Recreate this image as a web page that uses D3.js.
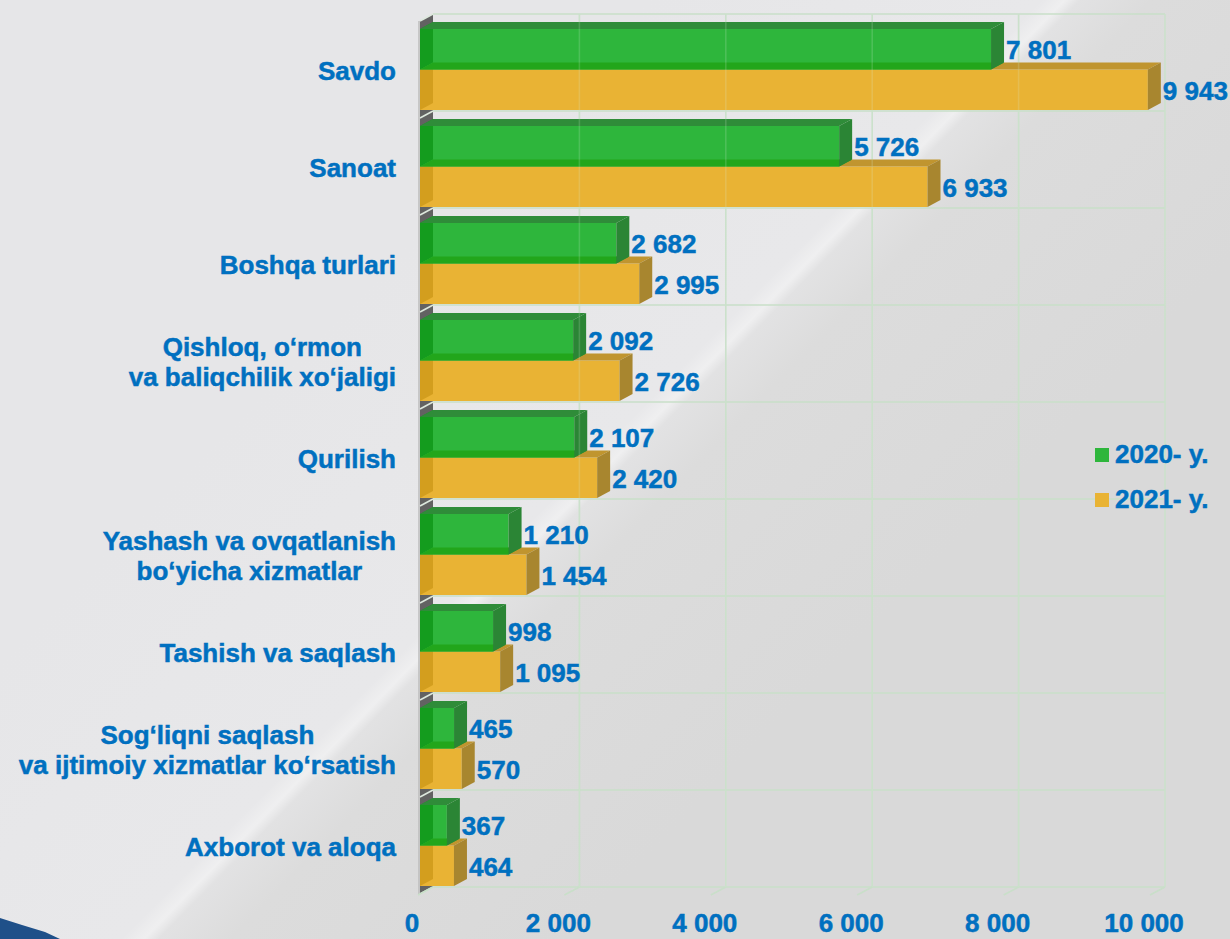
<!DOCTYPE html>
<html><head><meta charset="utf-8">
<script src="https://cdn.jsdelivr.net/npm/d3@7"></script>
<style>html,body{margin:0;padding:0;overflow:hidden;background:#e3e3e5}</style>
</head><body>
<svg id="c" width="1230" height="939"></svg>
<script>
const categories = [
  "Savdo",
  "Sanoat",
  "Boshqa turlari",
  "Qishloq, o‘rmon\nva baliqchilik xo‘jaligi",
  "Qurilish",
  "Yashash va ovqatlanish\nbo‘yicha xizmatlar",
  "Tashish va saqlash",
  "Sog‘liqni saqlash\nva ijtimoiy xizmatlar ko‘rsatish",
  "Axborot va aloqa"
];
const series = ["2020- y.", "2021- y."];
const values2020 = [7801, 5726, 2682, 2092, 2107, 1210, 998, 465, 367];
const values2021 = [9943, 6933, 2995, 2726, 2420, 1454, 1095, 570, 464];
const tickValues = [0, 2000, 4000, 6000, 8000, 10000];
const tickLabels = ["0", "2 000", "4 000", "6 000", "8 000", "10 000"];

const W = 1230, H = 939;
const DX = 13, DY = -7;
const FONT = "'Liberation Sans', Arial, sans-serif";
const TXT = "#0070C0";

const seriesValues = {"2020- y.": values2020, "2021- y.": values2021};
const colors = {
  "2020- y.": {front: "#2eb63c", top: "#2f8c39", side: "#2b8535", left: "#149c1e", bottom: "#22a61b"},
  "2021- y.": {front: "#e9b334", top: "#c0952f", side: "#a8862f", left: "#d39e1e", bottom: null}
};

const fmt = d3.formatLocale({decimal: ",", thousands: " ", grouping: [3], currency: ["", ""]}).format(",d");

const x = d3.scaleLinear().domain([0, 10000]).range([420, 1152]);
const y = d3.scaleBand().domain(categories).range([21, 894]).paddingInner(16 / 97).paddingOuter(8 / 97);
const ys = d3.scaleBand().domain(series).range([0, y.bandwidth()]);

const svg = d3.select("#c");
const defs = svg.append("defs");
const g = defs.append("linearGradient").attr("id", "bg").attr("gradientUnits", "userSpaceOnUse")
  .attr("x1", 412).attr("y1", 240).attr("x2", 840).attr("y2", 660);
[[0, "#e6e6e8"], [0.47, "#e8e8ea"], [0.497, "#efeff0"], [0.515, "#e2e2e3"], [0.6, "#dcdcdc"], [1, "#d9d9d9"]]
  .forEach(([o, c]) => g.append("stop").attr("offset", o).attr("stop-color", c));
svg.append("rect").attr("width", W).attr("height", H).attr("fill", "url(#bg)");

// bottom-left decoration
svg.append("path").attr("d", "M0,918 L22,925 L45,932 L60,939 L0,939 Z").attr("fill", "#1f5089");

const x0 = x(0);
const yTopBack = y.range()[0] + DY;
const yFloorBack = y.range()[1] + DY;
const poly = pts => pts.map(p => p.join(",")).join(" ");

// left wall
svg.append("polygon")
  .attr("points", poly([[x0, y.range()[0]], [x0 + DX, yTopBack], [x0 + DX, yFloorBack], [x0, y.range()[1]]]))
  .attr("fill", "#626262");
svg.append("line").attr("x1", x0 - 1).attr("x2", x0 - 1).attr("y1", y.range()[0]).attr("y2", y.range()[1])
  .attr("stroke", "#bdbdbd").attr("stroke-width", 1.5);

const grid = svg.append("g").attr("stroke", "#c9dfc9").attr("stroke-width", 1.6).attr("fill", "none");
tickValues.slice(1).forEach(v => {
  grid.append("line").attr("x1", x(v) + DX).attr("x2", x(v) + DX).attr("y1", yTopBack).attr("y2", yFloorBack);
});
for (let k = 0; k <= categories.length; k++) {
  const yb = yTopBack + k * y.step();
  grid.append("line").attr("x1", x0 + DX).attr("x2", x(10000) + DX).attr("y1", yb).attr("y2", yb);
  grid.append("line").attr("x1", x0).attr("x2", x0 + DX).attr("y1", yb - DY).attr("y2", yb)
    .attr("stroke", "#dde8dd");
}
tickValues.forEach(v => {
  grid.append("line").attr("x1", x(v) + DX).attr("y1", yFloorBack).attr("x2", x(v) - 2).attr("y2", yFloorBack + 8);
});

const textStyle = sel => sel.attr("font-family", FONT).attr("font-weight", "bold").attr("font-size", 26)
  .attr("fill", TXT).attr("stroke", TXT).attr("stroke-width", 0.5);

// axis labels
textStyle(svg.append("g")).selectAll("text").data(tickValues).join("text")
  .attr("x", v => x(v) - 8).attr("y", 932).attr("text-anchor", "middle")
  .text((v, i) => tickLabels[i]);

// bars
const bars = svg.append("g");
categories.forEach((cat, ci) => {
  series.slice().reverse().forEach(s => {
    const v = seriesValues[s][ci];
    const c = colors[s];
    const yT = y(cat) + ys(s), yB = yT + ys.bandwidth();
    const x1 = x(v);
    const gb = bars.append("g");
    gb.append("rect").attr("x", x0).attr("y", yT).attr("width", x1 - x0).attr("height", yB - yT).attr("fill", c.front);
    gb.append("polygon").attr("points", poly([[x0, yT], [x0 + DX, yT + DY], [x0 + DX, yB + DY], [x0, yB]])).attr("fill", c.left);
    if (c.bottom) {
      gb.append("polygon").attr("points", poly([[x0, yB], [x1, yB], [x1 + DX, yB + DY], [x0 + DX, yB + DY]])).attr("fill", c.bottom);
    }
    gb.append("polygon").attr("points", poly([[x0, yT], [x1, yT], [x1 + DX, yT + DY], [x0 + DX, yT + DY]])).attr("fill", c.top);
    gb.append("polygon").attr("points", poly([[x1, yT], [x1 + DX, yT + DY], [x1 + DX, yB + DY], [x1, yB]])).attr("fill", c.side);
  });
});

const faint = svg.append("g").attr("stroke", "#d8ecd8").attr("stroke-opacity", 0.18).attr("stroke-width", 1.6);
tickValues.slice(1).forEach(v => {
  faint.append("line").attr("x1", x(v) + DX).attr("x2", x(v) + DX).attr("y1", yTopBack).attr("y2", yFloorBack);
});

// value labels
const lab = textStyle(svg.append("g"));
categories.forEach((cat, ci) => {
  series.forEach(s => {
    const v = seriesValues[s][ci];
    lab.append("text").attr("x", x(v) + DX + 2).attr("y", y(cat) + ys(s) + ys.bandwidth() / 2 + 10).text(fmt(v));
  });
});

// category labels
const cl = textStyle(svg.append("g"));
categories.forEach(cat => {
  const lines = cat.split("\n");
  const cy = y(cat) + y.bandwidth() / 2 + 10.5;
  const t = cl.append("text").attr("text-anchor", "middle");
  const n = lines.length;
  const spans = lines.map((ln, i) => t.append("tspan").attr("y", cy + (i - (n - 1) / 2) * 29.5).text(ln));
  const maxW = d3.max(spans, sp => sp.node().getComputedTextLength());
  spans.forEach(sp => sp.attr("x", 396 - maxW / 2));
});

// legend
const leg = svg.append("g");
series.forEach((s, i) => {
  const ly = 448 + i * 45;
  leg.append("rect").attr("x", 1095).attr("y", ly).attr("width", 14).attr("height", 14).attr("fill", colors[s].front);
  textStyle(leg.append("text")).attr("x", 1115).attr("y", ly + 15).text(s);
});
</script>
</body></html>
